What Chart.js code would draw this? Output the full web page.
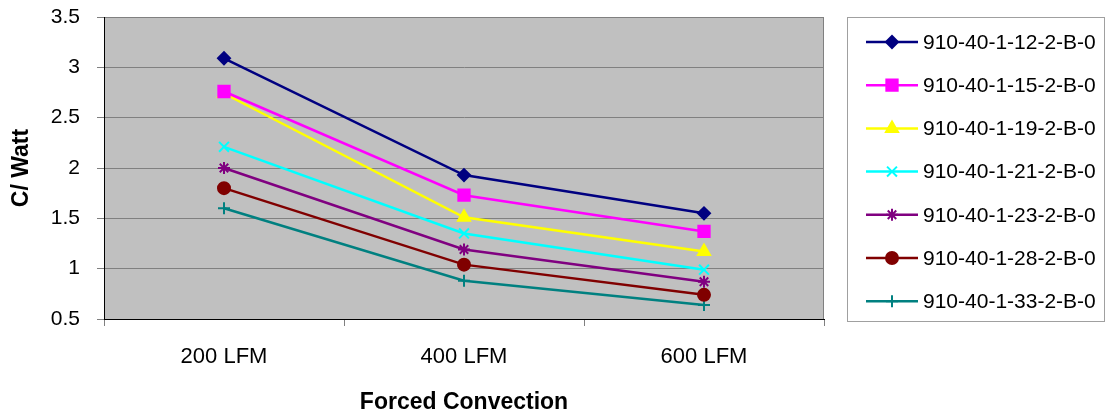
<!DOCTYPE html>
<html>
<head>
<meta charset="utf-8">
<script src="https://cdn.jsdelivr.net/npm/chart.js@4/dist/chart.umd.min.js"></script>
<style>
    html, body { margin: 0; padding: 0; background: #fff; }
    #wrap { width: 1107px; height: 414px; }
</style>
</head>
<body>
<div id="wrap"><canvas id="chart" width="1107" height="414"></canvas></div>
<script>
// Chart data
const categories = ['200 LFM', '400 LFM', '600 LFM'];
const seriesNames = [
    '910-40-1-12-2-B-0',
    '910-40-1-15-2-B-0',
    '910-40-1-19-2-B-0',
    '910-40-1-21-2-B-0',
    '910-40-1-23-2-B-0',
    '910-40-1-28-2-B-0',
    '910-40-1-33-2-B-0'
];
const s12 = [3.09, 1.93, 1.55];
const s15 = [2.76, 1.73, 1.37];
const s19 = [2.74, 1.51, 1.17];
const s21 = [2.21, 1.35, 0.99];
const s23 = [2.00, 1.19, 0.87];
const s28 = [1.80, 1.04, 0.74];
const s33 = [1.60, 0.88, 0.64];
const yTicks = [0.5, 1, 1.5, 2, 2.5, 3, 3.5];

const seriesValues = [s12, s15, s19, s21, s23, s28, s33];
const colors = ['#000080', '#ff00ff', '#ffff00', '#00ffff', '#800080', '#800000', '#008080'];
const markers = [
    { style: 'rectRot', radius: 6 },
    { style: 'rect', radius: 8 },
    { style: 'triangle', radius: 7 },
    { style: 'crossRot', radius: 7 },
    { style: 'star', radius: 6 },
    { style: 'circle', radius: 6 },
    { style: 'cross', radius: 6 }
];

const datasets = seriesNames.map((name, i) => ({
    label: name,
    data: seriesValues[i],
    borderColor: colors[i],
    backgroundColor: colors[i],
    borderWidth: 2.5,
    pointStyle: markers[i].style,
    pointRadius: markers[i].radius,
    pointHoverRadius: markers[i].radius,
    pointBorderWidth: 2,
    tension: 0
}));

// gray plot background
const plotBackground = {
    id: 'plotBackground',
    beforeDraw(chart) {
        const { ctx, chartArea: a } = chart;
        ctx.save();
        ctx.fillStyle = '#c0c0c0';
        ctx.fillRect(a.left, a.top, a.right - a.left, a.bottom - a.top);
        ctx.strokeStyle = '#808080';
        ctx.lineWidth = 1;
        ctx.strokeRect(a.left + 0.5, a.top + 0.5, a.right - a.left - 1, a.bottom - a.top);
        ctx.restore();
    }
};

// legend box at the right, Excel style (line + marker)
const sideLegend = {
    id: 'sideLegend',
    afterDraw(chart) {
        const ctx = chart.ctx;
        ctx.save();
        ctx.fillStyle = '#ffffff';
        ctx.fillRect(847, 17, 258, 304);
        ctx.strokeStyle = '#a0a0a0';
        ctx.lineWidth = 1;
        ctx.strokeRect(847.5, 17.5, 257, 304);
        ctx.font = '21px "Liberation Sans", Arial, sans-serif';
        ctx.textBaseline = 'middle';
        chart.data.datasets.forEach((ds, i) => {
            const y = 42 + i * 43.2;
            ctx.strokeStyle = ds.borderColor;
            ctx.fillStyle = ds.backgroundColor;
            ctx.lineWidth = 2.5;
            ctx.beginPath();
            ctx.moveTo(866, y);
            ctx.lineTo(918, y);
            ctx.stroke();
            ctx.lineWidth = 2;
            Chart.helpers.drawPoint(ctx, {
                pointStyle: ds.pointStyle,
                radius: ds.pointRadius,
                rotation: 0,
                borderWidth: 2
            }, 892, y);
            ctx.fillStyle = '#000000';
            ctx.fillText(ds.label, 923, y + 1);
        });
        ctx.restore();
    }
};

new Chart(document.getElementById('chart'), {
    type: 'line',
    data: { labels: categories, datasets: datasets },
    options: {
        responsive: false,
        animation: false,
        layout: { padding: { left: 0, top: 17, right: 283, bottom: 0 } },
        plugins: {
            legend: { display: false },
            tooltip: { enabled: false }
        },
        scales: {
            x: {
                offset: true,
                afterFit: (scale) => { scale.height = 95; },
                border: { color: '#000000', width: 1 },
                grid: {
                    offset: true,
                    drawOnChartArea: false,
                    drawTicks: true,
                    tickLength: 7,
                    color: '#808080'
                },
                ticks: {
                    color: '#000000',
                    padding: 18,
                    font: { family: '"Liberation Sans", Arial, sans-serif', size: 22 }
                },
                title: {
                    display: true,
                    text: 'Forced Convection',
                    color: '#000000',
                    padding: { top: 0, bottom: 0 },
                    font: { family: '"Liberation Sans", Arial, sans-serif', size: 23, weight: 'bold', lineHeight: 1 }
                }
            },
            y: {
                min: 0.5,
                max: 3.5,
                afterFit: (scale) => {
                    scale.width = 104;
                    scale.paddingTop = 0;
                    scale.paddingBottom = 0;
                },
                afterBuildTicks: (scale) => {
                    scale.ticks = yTicks.map(v => ({ value: v }));
                },
                border: { color: '#000000', width: 1 },
                grid: {
                    color: '#808080',
                    tickLength: 7,
                    drawTicks: true
                },
                ticks: {
                    color: '#000000',
                    padding: 17,
                    callback: (v) => String(v),
                    font: { family: '"Liberation Sans", Arial, sans-serif', size: 21 }
                },
                title: {
                    display: true,
                    text: 'C/ Watt',
                    color: '#000000',
                    padding: { top: 8, bottom: 0 },
                    font: { family: '"Liberation Sans", Arial, sans-serif', size: 23, weight: 'bold', lineHeight: 1.2 }
                }
            }
        }
    },
    plugins: [plotBackground, sideLegend]
});
</script>
</body>
</html>
